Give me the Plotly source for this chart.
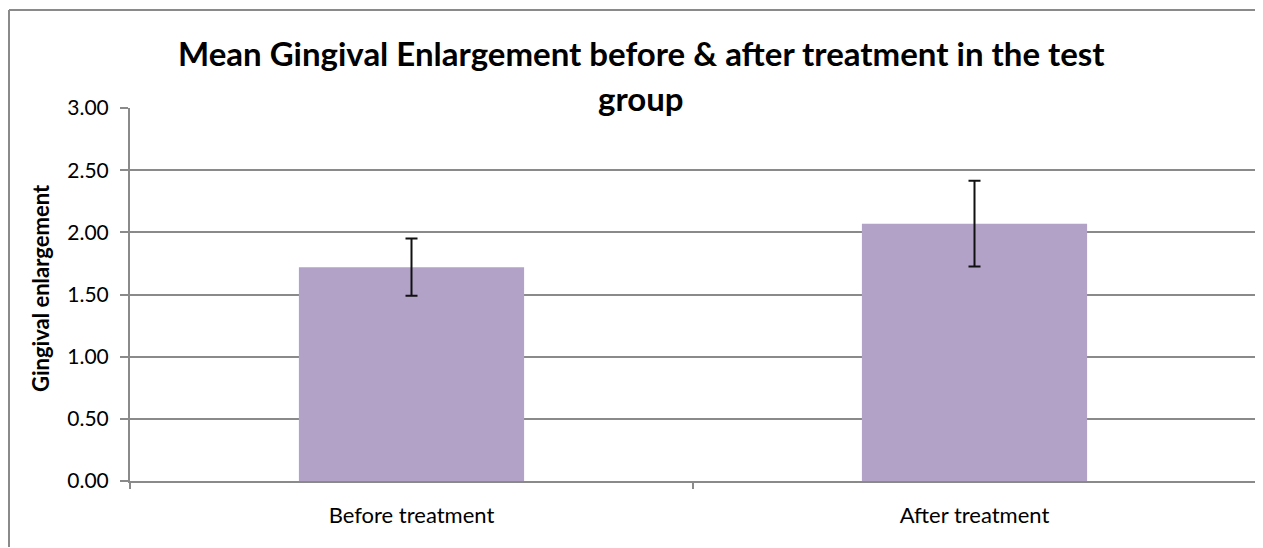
import plotly.graph_objects as go

categories = ["Before treatment", "After treatment"]
mean_values = [1.72, 2.07]
error_values = [0.23, 0.345]
title_line1 = "Mean Gingival Enlargement before & after treatment in the test"
title_line2 = "group"
y_title = "Gingival enlargement"

# page has an 8px body margin, so the figure is drawn 8px in from the window edge
OFF = 8
W, H = 1255, 540
L, R, T, B = 122, 7, 100, 67
ph = H - T - B
pw = W - L - R

def py(p):
    # screenshot row -> paper y
    return (H - B - (p - OFF)) / ph

def px_(p):
    # screenshot column -> paper x
    return (p - OFF - L) / pw

FONT = "Lato"
GRAY = "#8a8a8a"

fig = go.Figure(go.Bar(
    x=categories, y=mean_values,
    marker=dict(color="#B2A2C8", line=dict(width=0)),
    width=0.4,
    error_y=dict(type="data", array=error_values, visible=True,
                 color="#111111", thickness=2, width=6),
))

# chart-area frame: only the top and left edges are inside the crop
frame = [
    dict(type="line", xref="paper", yref="paper",
         x0=px_(9), x1=px_(1262), y0=py(10), y1=py(10),
         line=dict(color=GRAY, width=2), layer="below"),
    dict(type="line", xref="paper", yref="paper",
         x0=px_(9), x1=px_(9), y0=py(10), y1=py(547),
         line=dict(color=GRAY, width=2), layer="below"),
]

fig.update_layout(
    width=W, height=H,
    margin=dict(l=L, r=R, t=T, b=B),
    paper_bgcolor="white", plot_bgcolor="white",
    showlegend=False,
    font=dict(family=FONT, color="black"),
    xaxis=dict(
        showline=True, linecolor=GRAY, linewidth=2,
        ticks="outside", tickcolor=GRAY, ticklen=6, tickwidth=2,
        tickson="boundaries", tickfont=dict(size=22, color="black"),
        ticklabelstandoff=14,
        showgrid=False,
    ),
    yaxis=dict(
        range=[0, 3], dtick=0.5, tickformat=".2f",
        showline=True, linecolor=GRAY, linewidth=2,
        ticks="outside", tickcolor=GRAY, ticklen=8, tickwidth=2,
        showgrid=True, gridcolor=GRAY, gridwidth=2,
        zeroline=False,
        tickfont=dict(size=21, color="black"),
        ticklabelstandoff=7,
    ),
    shapes=frame,
    annotations=[
        dict(text="<b>" + title_line1 + "</b>", xref="paper", yref="paper",
             x=px_(641), y=py(53), xanchor="center", yanchor="middle",
             showarrow=False, font=dict(size=33)),
        dict(text="<b>" + title_line2 + "</b>", xref="paper", yref="paper",
             x=px_(641), y=py(98), xanchor="center", yanchor="middle",
             showarrow=False, font=dict(size=33)),
        dict(text="<b>" + y_title + "</b>", xref="paper", yref="paper",
             x=px_(40), y=py(288), xanchor="center", yanchor="middle",
             textangle=-90, showarrow=False, font=dict(size=22)),
    ],
)

fig.write_html("out.html")
